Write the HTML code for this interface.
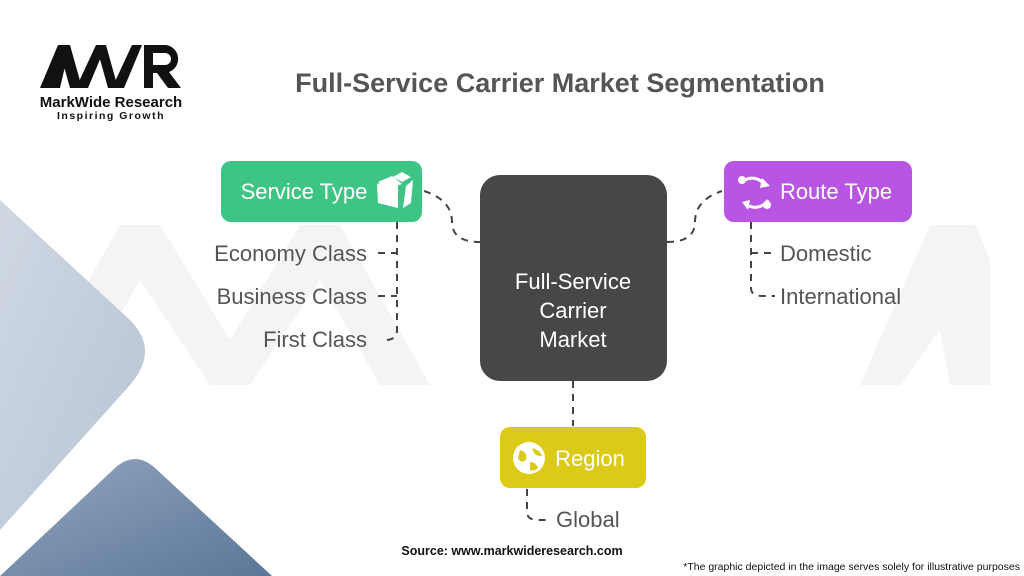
<!DOCTYPE html>
<html><head><meta charset="utf-8"><style>
body{margin:0;width:1024px;height:576px;overflow:hidden;background:#fff;font-family:"Liberation Sans",sans-serif;position:relative}
svg{position:absolute;left:0;top:0}
</style></head><body>
<svg width="1024" height="576" viewBox="0 0 1024 576">
<defs>
<linearGradient id="g1" x1="0" y1="0" x2="1" y2="1"><stop offset="0" stop-color="#cfd8e3"/><stop offset="1" stop-color="#b7c4d4"/></linearGradient>
<linearGradient id="g2" x1="0" y1="0" x2="1" y2="1"><stop offset="0" stop-color="#93a6c0"/><stop offset="1" stop-color="#5b7698"/></linearGradient>
</defs>
<!-- watermark -->
<g fill="#f4f4f4">
<polygon points="30,385 120,225 160,225 230,340 300,225 340,225 430,385 380,385 320,280 250,385 210,385 140,280 80,385"/>
<polygon points="860,385 930,225 975,225 990,260 990,385 950,385 940,330 900,385"/>
</g>
<path d="M0,200 L130,320 Q160,350 130,385 L0,530 Z" fill="url(#g1)"/>
<path d="M0,576 L115,468 Q135,450 155,468 L272,576 Z" fill="url(#g2)"/>
<!-- logo -->
<g fill="#111">
<polygon points="40,88 58,45 70,45 60,88"/>
<polygon points="58,45 70,45 82,88 70,88"/>
<polygon points="76,88 96,45 106,45 88,88"/>
<polygon points="96,45 106,45 118,88 108,88"/>
<polygon points="112,88 132,45 142,45 124,88"/>
<path d="M144,45 h22 a14,14 0 0 1 3,27 l12,16 h-13 l-11,-15 h-4 v15 h-9 z M153,53 v12 h12 a6,6 0 0 0 0,-12 z"/>
</g>
<text x="111" y="107" text-anchor="middle" font-size="15" font-weight="bold" fill="#111">MarkWide Research</text>
<text x="111" y="119" text-anchor="middle" font-size="10.5" font-weight="bold" fill="#111" letter-spacing="1.5">Inspiring Growth</text>
<text x="560" y="92" text-anchor="middle" font-size="27" font-weight="bold" fill="#555">Full-Service Carrier Market Segmentation</text>
<!-- connectors -->
<g fill="none" stroke="#444" stroke-width="2" stroke-dasharray="7,6">
<path d="M424,191 Q452,200 452,222 Q452,242 480,242"/>
<path d="M667,242 Q695,242 695,222 Q695,200 722,191"/>
<path d="M397,222 V330 Q397,340 385,340"/>
<path d="M378,253 H397 M378,296 H397"/>
<path d="M751,222 V288 Q751,296 763,296 H775"/>
<path d="M751,253 H775"/>
<path d="M573,381 V426"/>
<path d="M527,489 V512 Q527,520 538,520 H550"/>
</g>
<!-- boxes -->
<rect x="221" y="161" width="201" height="61" rx="10" fill="#3ec585"/>
<text x="304" y="199" text-anchor="middle" font-size="22" fill="#fff">Service Type</text>
<g fill="#fff"><polygon points="393,177 402,172 411,177 402,182"/><polygon points="377,184 390,180 398,186 398,208 378,203"/><polygon points="406,186 413,180 411,203 403,208"/><polygon points="378,182 392,176 402,184 389,188" /></g>
<rect x="480" y="175" width="187" height="206" rx="20" fill="#474747"/>
<text x="573" y="289" text-anchor="middle" font-size="22" fill="#fff">Full-Service</text>
<text x="573" y="318" text-anchor="middle" font-size="22" fill="#fff">Carrier</text>
<text x="573" y="347" text-anchor="middle" font-size="22" fill="#fff">Market</text>
<rect x="724" y="161" width="188" height="61" rx="10" fill="#b855e2"/>
<text x="836" y="199" text-anchor="middle" font-size="22" fill="#fff">Route Type</text>
<g fill="none" stroke="#fff" stroke-width="3"><path d="M745,180 a15,15 0 0 1 19,4"/><path d="M768,200 a15,15 0 0 1 -19,6"/></g>
<g fill="#fff"><circle cx="742" cy="180" r="4"/><circle cx="767" cy="205" r="4"/><polygon points="762,178 770,186 760,188"/><polygon points="750,200 742,202 748,210"/></g>
<rect x="500" y="427" width="146" height="61" rx="10" fill="#dbca17"/>
<text x="590" y="466" text-anchor="middle" font-size="22" fill="#fff">Region</text>
<circle cx="529" cy="458" r="16" fill="#fff"/>
<path d="M520,450 q8,2 6,10 q-6,4 -8,-2z M532,448 q8,2 10,8 q-6,0 -8,-3z M530,462 q6,0 8,6 q-4,4 -8,2z" fill="#dbca17"/>
<!-- labels -->
<g font-size="22" fill="#555">
<text x="367" y="261" text-anchor="end">Economy Class</text>
<text x="367" y="304" text-anchor="end">Business Class</text>
<text x="367" y="347" text-anchor="end">First Class</text>
<text x="780" y="261">Domestic</text>
<text x="780" y="304">International</text>
<text x="556" y="527">Global</text>
</g>
<text x="512" y="555" text-anchor="middle" font-size="12.5" font-weight="bold" fill="#111">Source: www.markwideresearch.com</text>
<text x="1020" y="570" text-anchor="end" font-size="10.5" fill="#111">*The graphic depicted in the image serves solely for illustrative purposes</text>
</svg>
</body></html>
